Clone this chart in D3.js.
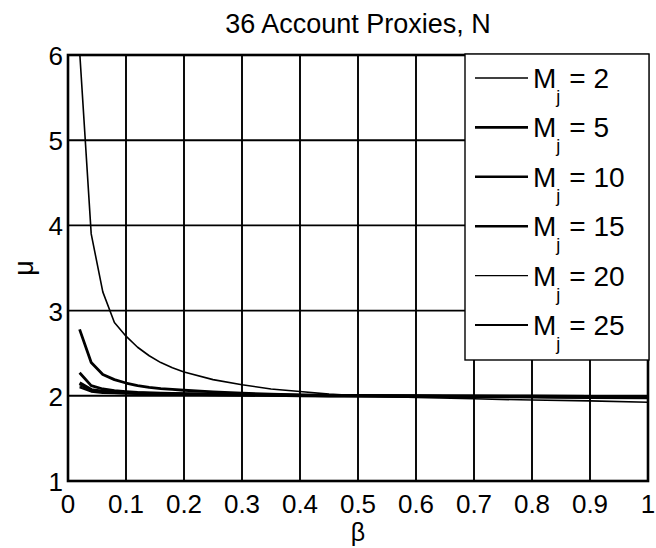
<!DOCTYPE html>
<html>
<head>
<meta charset="utf-8">
<script src="https://cdn.jsdelivr.net/npm/d3@7"></script>
<style>
  body { margin: 0; background: #fff; }
  text { font-family: Arial, "Liberation Sans", sans-serif; fill: #000; }
</style>
</head>
<body>
<div id="chart"></div>
<script>
// ----------------------------------------------------------------
// Data
// ----------------------------------------------------------------

const beta = [0.02, 0.04, 0.06, 0.08, 0.1, 0.12, 0.14, 0.16, 0.18, 0.2,
  0.25, 0.3, 0.35, 0.4, 0.45, 0.5, 0.6, 0.7, 0.8, 0.9, 1.0];

const mu2  = [6.05, 3.9, 3.22, 2.86, 2.7, 2.57, 2.47, 2.39, 2.33, 2.28,
  2.19, 2.13, 2.08, 2.05, 2.02, 2.0, 1.98, 1.965, 1.95, 1.94, 1.925];
const mu5  = [2.78, 2.39, 2.25, 2.19, 2.15, 2.12, 2.1, 2.085, 2.075, 2.065,
  2.045, 2.03, 2.02, 2.01, 2.005, 2.0, 1.995, 1.99, 1.985, 1.98, 1.975];
const mu10 = [2.27, 2.12, 2.08, 2.06, 2.05, 2.04, 2.035, 2.03, 2.028, 2.025,
  2.02, 2.015, 2.01, 2.005, 2.0, 2.0, 1.995, 1.99, 1.99, 1.985, 1.985];
const mu15 = [2.15, 2.07, 2.05, 2.04, 2.035, 2.03, 2.028, 2.025, 2.022, 2.02,
  2.016, 2.012, 2.008, 2.004, 2.0, 2.0, 1.997, 1.995, 1.993, 1.99, 1.99];
const mu20 = [2.12, 2.06, 2.04, 2.035, 2.03, 2.027, 2.024, 2.022, 2.02, 2.018,
  2.014, 2.01, 2.007, 2.004, 2.002, 2.0, 1.998, 1.997, 1.996, 1.995, 1.994];
const mu25 = [2.1, 2.05, 2.035, 2.03, 2.027, 2.024, 2.022, 2.02, 2.018, 2.016,
  2.012, 2.009, 2.006, 2.004, 2.002, 2.0, 1.999, 1.998, 1.998, 1.997, 1.997];

const seriesNames = ["2", "5", "10", "15", "20", "25"];
const seriesValues = [mu2, mu5, mu10, mu15, mu20, mu25];
const seriesWidths = [1.6, 2.8, 2.8, 3.4, 1.4, 2.2];

const xTicks = [0, 0.1, 0.2, 0.3, 0.4, 0.5, 0.6, 0.7, 0.8, 0.9, 1];
const yTicks = [1, 2, 3, 4, 5, 6];

// ----------------------------------------------------------------
// Layout
// ----------------------------------------------------------------

const width = 656, height = 548;
const margin = { top: 55, right: 8, bottom: 67, left: 68 };

const svg = d3.select("#chart").append("svg")
  .attr("width", width)
  .attr("height", height);

const x = d3.scaleLinear().domain([0, 1]).range([margin.left, width - margin.right]);
const y = d3.scaleLinear().domain([1, 6]).range([height - margin.bottom, margin.top]);

// grid
svg.append("g").selectAll("line").data(xTicks).join("line")
  .attr("x1", d => x(d)).attr("x2", d => x(d))
  .attr("y1", y(1)).attr("y2", y(6))
  .attr("stroke", "#000").attr("stroke-width", 1.9);

svg.append("g").selectAll("line").data(yTicks).join("line")
  .attr("x1", x(0)).attr("x2", x(1))
  .attr("y1", d => y(d)).attr("y2", d => y(d))
  .attr("stroke", "#000").attr("stroke-width", 1.9);

// clip region
svg.append("clipPath").attr("id", "plot-clip")
  .append("rect")
  .attr("x", x(0)).attr("y", y(6))
  .attr("width", x(1) - x(0)).attr("height", y(1) - y(6));

// curves
const line = d3.line()
  .x((d, i) => x(beta[i]))
  .y(d => y(d));

svg.append("g").attr("clip-path", "url(#plot-clip)")
  .selectAll("path").data(seriesValues).join("path")
  .attr("d", d => line(d))
  .attr("fill", "none")
  .attr("stroke", "#000")
  .attr("stroke-width", (d, i) => seriesWidths[i])
  .attr("stroke-linejoin", "round");

// axis box
svg.append("rect")
  .attr("x", x(0)).attr("y", y(6))
  .attr("width", x(1) - x(0)).attr("height", y(1) - y(6))
  .attr("fill", "none").attr("stroke", "#000").attr("stroke-width", 2.6);

// tick labels
svg.append("g").selectAll("text").data(xTicks).join("text")
  .attr("x", d => x(d))
  .attr("y", y(1) + 32)
  .attr("text-anchor", "middle")
  .attr("font-size", 26)
  .text(d => d3.format("~g")(d));

svg.append("g").selectAll("text").data(yTicks).join("text")
  .attr("x", x(0) - 5)
  .attr("y", d => y(d) + 10)
  .attr("text-anchor", "end")
  .attr("font-size", 26)
  .text(d => d);

// titles
svg.append("text")
  .attr("x", (x(0) + x(1)) / 2)
  .attr("y", 33)
  .attr("text-anchor", "middle")
  .attr("font-size", 27)
  .text("36 Account Proxies, N");

svg.append("text")
  .attr("x", (x(0) + x(1)) / 2)
  .attr("y", 541)
  .attr("text-anchor", "middle")
  .attr("font-size", 25)
  .text("β");

svg.append("text")
  .attr("transform", "translate(33," + ((y(1) + y(6)) / 2) + ") rotate(-90)")
  .attr("text-anchor", "middle")
  .attr("font-size", 27)
  .text("μ");

// legend
const legend = svg.append("g");
legend.append("rect")
  .attr("x", 465).attr("y", 54)
  .attr("width", 184).attr("height", 306)
  .attr("fill", "#fff").attr("stroke", "#000").attr("stroke-width", 1.4);

const rows = legend.selectAll("g").data(seriesNames).join("g")
  .attr("transform", (d, i) => "translate(0," + (78 + i * 49.4) + ")");

rows.append("line")
  .attr("x1", 475).attr("x2", 528)
  .attr("y1", 0).attr("y2", 0)
  .attr("stroke", "#000")
  .attr("stroke-width", (d, i) => Math.min(seriesWidths[i], 2.6));

const label = rows.append("text")
  .attr("x", 533)
  .attr("y", 10)
  .attr("font-size", 28);
label.append("tspan").text("M");
label.append("tspan").attr("dy", 15).attr("font-size", 18).text("j");
label.append("tspan").attr("dy", -15).attr("dx", 9).text(d => "= " + d);
</script>
</body>
</html>
